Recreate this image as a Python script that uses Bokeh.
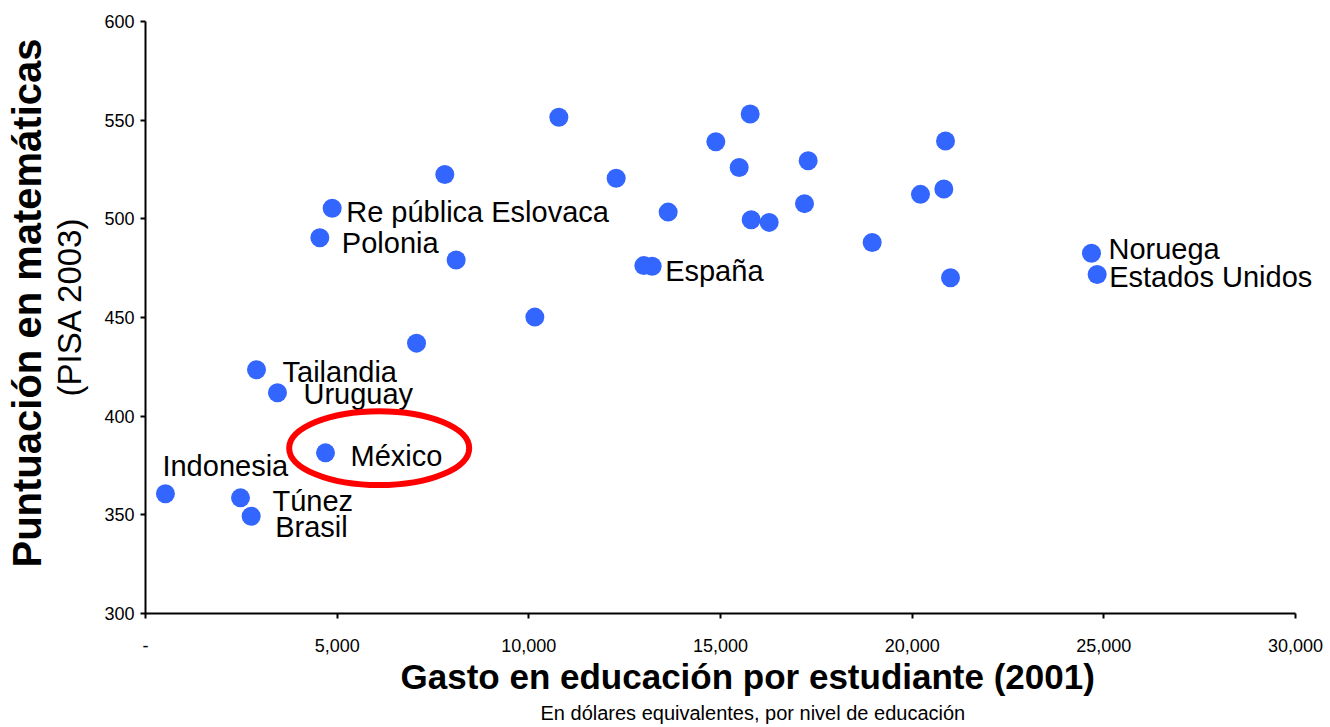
from bokeh.plotting import figure
from bokeh.models import ColumnDataSource, Range1d, FixedTicker, Title
from bokeh.core.properties import value
from bokeh.embed import file_html
from bokeh.resources import INLINE

# ---------------- data ----------------
paises = ["Indonesia", "Túnez", "Brasil", "Tailandia", "Uruguay", "México",
          "p07", "Polonia", "Re pública Eslovaca", "p10", "p11", "p12", "p13",
          "p14", "España", "p16", "p17", "p18", "p19", "p20", "p21", "p22",
          "p23", "p24", "p25", "p26", "p27", "p28", "p29", "Noruega",
          "Estados Unidos"]
gasto = [520, 2478, 2757, 2896, 3443, 4696,
         7070, 4548, 4870, 7808, 8104, 10157, 10783,
         12278, 13217, 13000, 13635, 14878, 15774, 15487, 15800, 16270,
         17287, 17191, 18957, 20217, 20870, 20826, 21000, 24678,
         24826]
puntuacion = [360.7, 358.6, 349.3, 423.5, 411.9, 381.4,
              437.0, 490.4, 505.4, 522.5, 479.1, 450.2, 551.5,
              520.6, 476.0, 476.3, 503.4, 539.1, 553.1, 526.0, 499.5, 498.2,
              529.4, 507.7, 488.0, 512.4, 539.4, 515.1, 470.1, 482.6,
              471.8]
etiquetados = ["Indonesia", "Túnez", "Brasil", "Tailandia", "Uruguay", "México",
               "Polonia", "Re pública Eslovaca", "España", "Noruega",
               "Estados Unidos"]
destacado = "México"

x_min, x_max = 0, 30000
y_min, y_max = 300, 600
x_ticks = [0, 5000, 10000, 15000, 20000, 25000, 30000]
x_tick_labels = ["-", "5,000", "10,000", "15,000", "20,000", "25,000", "30,000"]
y_ticks = [300, 350, 400, 450, 500, 550, 600]
y_tick_labels = ["300", "350", "400", "450", "500", "550", "600"]

titulo_y = "Puntuación en matemáticas"
subtitulo_y = "(PISA 2003)"
titulo_x = "Gasto en educación por estudiante (2001)"
subtitulo_x = "En dólares equivalentes, por nivel de educación"

# ---------------- layout / style ----------------
W, H = 1330, 727
FRAME_L, FRAME_T, FRAME_B = 145, 21, 613   # axis line positions (px)
AXIS_LEN = 1150                            # px from 0 to 30,000
x_end = x_max * (W - FRAME_L) / AXIS_LEN   # frame runs to the right edge

desplazamientos = {
    "Indonesia": (-3, -28),
    "Túnez": (32, 3),
    "Brasil": (24, 11),
    "Tailandia": (26, 2),
    "Uruguay": (26, 1),
    "México": (25, 3),
    "Polonia": (22, 5),
    "Re pública Eslovaca": (14, 4),
    "España": (13, 5),
    "Noruega": (17, -4),
    "Estados Unidos": (12, 3),
}

FONT = "Liberation Sans"
PUNTO = "#3366ff"

p = figure(width=W, height=H,
           x_range=Range1d(x_min, x_end), y_range=Range1d(y_min, y_max),
           output_backend="svg", toolbar_location=None,
           min_border_left=FRAME_L, min_border_right=0,
           min_border_top=FRAME_T, min_border_bottom=H - FRAME_B)
p.xgrid.visible = False
p.ygrid.visible = False
p.outline_line_color = None
p.background_fill_color = "white"
p.border_fill_color = "white"

for ax in (p.xaxis[0], p.yaxis[0]):
    ax.axis_line_width = 2
    ax.axis_line_color = "black"
    ax.major_tick_line_width = 2
    ax.major_tick_line_color = "black"
    ax.major_tick_in = 0
    ax.major_tick_out = 5
    ax.minor_tick_in = 0
    ax.minor_tick_out = 0
    ax.major_label_text_font = FONT
    ax.major_label_text_font_size = "18px"
    ax.major_label_text_color = "black"

p.xaxis.bounds = (x_min, x_max)
p.xaxis.ticker = FixedTicker(ticks=x_ticks)
p.xaxis.major_label_overrides = {t: l for t, l in zip(x_ticks, x_tick_labels)}
p.xaxis.major_label_standoff = 20
p.yaxis.bounds = (y_min, y_max)
p.yaxis.ticker = FixedTicker(ticks=y_ticks)
p.yaxis.major_label_overrides = {t: l for t, l in zip(y_ticks, y_tick_labels)}
p.yaxis.major_label_standoff = 6

src = ColumnDataSource(dict(x=gasto, y=puntuacion))
p.scatter("x", "y", source=src, marker="circle", size=19,
          fill_color=PUNTO, line_color=None)

lx, ly, lt, ox, oy = [], [], [], [], []
for nombre in etiquetados:
    i = paises.index(nombre)
    lx.append(gasto[i]); ly.append(puntuacion[i]); lt.append(nombre)
    ox.append(desplazamientos[nombre][0]); oy.append(desplazamientos[nombre][1])
lsrc = ColumnDataSource(dict(x=lx, y=ly, t=lt, ox=ox, oy=oy))
p.text("x", "y", text="t", source=lsrc, x_offset="ox", y_offset="oy",
       text_font=value(FONT), text_font_size="29px", text_color="black",
       text_align="left", text_baseline="alphabetic")

# highlight ellipse around México
im = paises.index(destacado)
p.ellipse(x=[gasto[im] + 1400], y=[puntuacion[im] + 2.4],
          width=180, height=74, width_units="screen", height_units="screen",
          fill_color=None, line_color="#ff0000", line_width=6)

# axis titles (stacked outward from the frame); first one is a blank spacer
p.add_layout(Title(text=" ", text_font_size="1px", standoff=11), "left")
p.add_layout(Title(text=subtitulo_y, align="left", offset=217,
                   text_font=FONT, text_font_style="normal",
                   text_font_size="33px", text_color="black", standoff=0), "left")
p.add_layout(Title(text=titulo_y, align="left", offset=46,
                   text_font=FONT, text_font_style="bold",
                   text_font_size="40px", text_color="black", standoff=0), "left")
p.add_layout(Title(text=titulo_x, align="left", offset=255,
                   text_font=FONT, text_font_style="bold",
                   text_font_size="35px", text_color="black", standoff=0), "below")
p.add_layout(Title(text=subtitulo_x, align="left", offset=395,
                   text_font=FONT, text_font_style="normal",
                   text_font_size="20px", text_color="black", standoff=8), "below")

open("out.html", "w").write(file_html(p, INLINE))
